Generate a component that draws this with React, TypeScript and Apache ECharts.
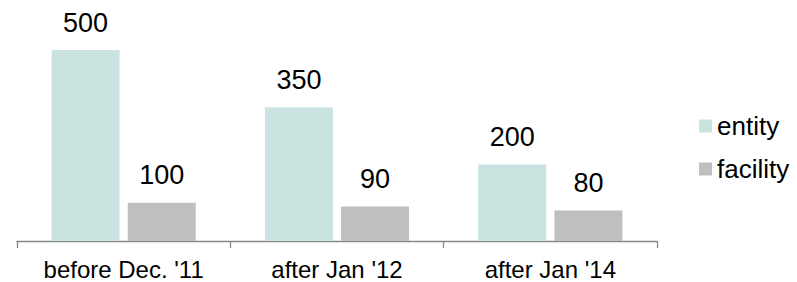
import React, { useEffect, useRef } from "react";
import * as echarts from "echarts";

const categories = ["before Dec. '11", "after Jan '12", "after Jan '14"];
const entityValues = [500, 350, 200];
const facilityValues = [100, 90, 80];
const seriesNames = ["entity", "facility"];

export default function App() {
  const ref = useRef<HTMLDivElement>(null);
  useEffect(() => {
    if (!ref.current) return;
    const chart = echarts.init(ref.current, undefined, { renderer: "svg" });
    const font = "Liberation Sans, Arial, sans-serif";
    chart.setOption({
      animation: false,
      backgroundColor: "#ffffff",
      grid: { left: 17, right: 140, top: 11.8, bottom: 41 },
      legend: {
        orient: "vertical",
        left: 699,
        top: 113,
        padding: 0,
        itemWidth: 13,
        itemHeight: 13,
        itemGap: 17,
        icon: "rect",
        textStyle: { fontSize: 26, color: "#000", fontFamily: font, padding: [0, 0, 0, 0] },
        data: seriesNames,
      },
      xAxis: {
        type: "category",
        data: categories,
        axisLine: { lineStyle: { color: "#888888", width: 1.3 } },
        axisTick: { show: true, length: 7, lineStyle: { color: "#888888", width: 1.3 } },
        axisLabel: { fontSize: 24, color: "#000", fontFamily: font, margin: 16 },
      },
      yAxis: {
        type: "value",
        min: 0,
        max: 600,
        show: false,
        splitLine: { show: false },
      },
      series: [
        {
          name: seriesNames[0],
          type: "bar",
          data: entityValues,
          barWidth: 68,
          barGap: "12%",
          itemStyle: { color: "#C9E4E0" },
          label: { show: true, position: "top", distance: 14, fontSize: 27, color: "#000", fontFamily: font },
        },
        {
          name: seriesNames[1],
          type: "bar",
          data: facilityValues,
          barWidth: 68,
          barGap: "12%",
          itemStyle: { color: "#BFBFBF" },
          label: { show: true, position: "top", distance: 14, fontSize: 27, color: "#000", fontFamily: font },
        },
      ],
    });
    return () => chart.dispose();
  }, []);
  return (
    <div
      ref={ref}
      style={{ position: "fixed", left: 0, top: 0, width: 797, height: 282 }}
    />
  );
}
